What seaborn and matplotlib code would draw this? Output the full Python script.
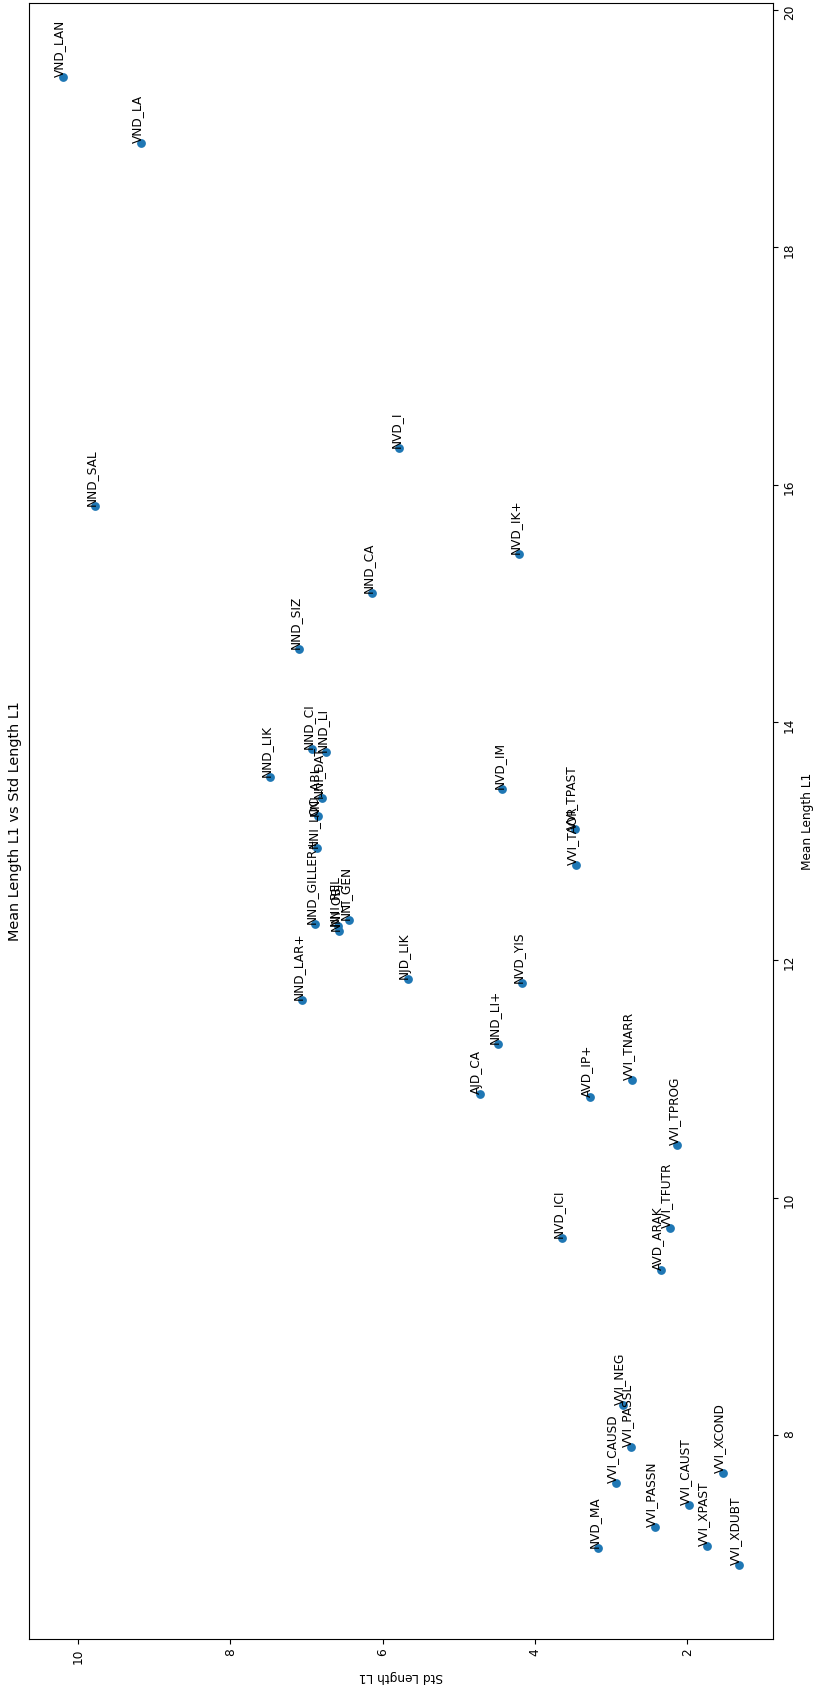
import matplotlib
matplotlib.use("Agg")
import matplotlib.pyplot as plt
import seaborn as sns
import pandas as pd

# Suffix categories with their mean and standard deviation of length (L1)
labels = [
    "VND_LAN", "VND_LA", "NND_SAL", "NVD_I", "NVD_IK+", "NND_CA", "NND_SIZ",
    "NND_LIK", "NND_CI", "NND_LI", "NNI_DAT", "NNI_ABL", "NNI_LOC",
    "NND_GILLER+", "NNI_OBJ", "NNI_REL", "NNI_GEN", "NND_LAR+", "NJD_LIK",
    "NVD_IM", "VVI_TPAST", "VVI_TAOR", "NVD_YIS", "NND_LI+", "AJD_CA",
    "AVD_IP+", "VVI_TNARR", "VVI_TPROG", "VVI_TFUTR", "AVD_ARAK", "NVD_ICI",
    "VVI_NEG", "VVI_PASSL", "VVI_CAUSD", "VVI_CAUST", "VVI_XCOND",
    "VVI_PASSN", "NVD_MA", "VVI_XPAST", "VVI_XDUBT",
]
mean_length = [
    19.43, 18.88, 15.82, 16.31, 15.42, 15.09, 14.62,
    13.54, 13.78, 13.75, 13.36, 13.21, 12.94,
    12.30, 12.24, 12.29, 12.34, 11.66, 11.84,
    13.44, 13.10, 12.80, 11.81, 11.29, 10.87,
    10.85, 10.99, 10.44, 9.74, 9.39, 9.66,
    8.25, 7.90, 7.60, 7.41, 7.68,
    7.23, 7.05, 7.07, 6.91,
]
std_length = [
    10.20, 9.18, 9.78, 5.78, 4.21, 6.14, 7.10,
    7.48, 6.93, 6.75, 6.80, 6.85, 6.86,
    6.89, 6.57, 6.59, 6.44, 7.06, 5.67,
    4.43, 3.48, 3.46, 4.17, 4.49, 4.72,
    3.28, 2.73, 2.13, 2.23, 2.35, 3.65,
    2.84, 2.74, 2.94, 1.98, 1.53,
    2.43, 3.17, 1.74, 1.32,
]

df = pd.DataFrame({"label": labels, "mean": mean_length, "std": std_length})

W, H = 814, 1693
fig = plt.figure(figsize=(W / 100, H / 100), dpi=100)
ax = fig.add_axes([29 / W, 1 - 1639 / H, (773 - 29) / W, (1639 - 3) / H])

# Portrait layout: std runs right-to-left along the bottom, mean up the right side
sns.scatterplot(data=df, x="std", y="mean", ax=ax, s=40, color="#1f77b4",
                linewidth=0)
ax.invert_xaxis()

for lab, m, s in zip(df["label"], df["mean"], df["std"]):
    ax.text(s, m, lab, rotation=90, rotation_mode="anchor",
            ha="left", va="baseline", fontsize=8.7)

ax.yaxis.tick_right()
ax.yaxis.set_label_position("right")
ax.set_ylabel("Mean Length L1", rotation=90, fontsize=8.7)
ax.set_xlabel("Std Length L1", rotation=180, fontsize=8.7)
ax.tick_params(axis="x", labelrotation=90, labelsize=8.7)
ax.tick_params(axis="y", labelrotation=90, labelsize=8.7)
ax.set_yticks([8, 10, 12, 14, 16, 18, 20])
ax.set_xticks([10, 8, 6, 4, 2])

ax.annotate("Mean Length L1 vs Std Length L1", xy=(0, 0.5),
            xycoords="axes fraction", xytext=(-5, 0),
            textcoords="offset points", rotation=90,
            ha="right", va="center", fontsize=10.4)

fig.savefig("out.png", dpi=100)
